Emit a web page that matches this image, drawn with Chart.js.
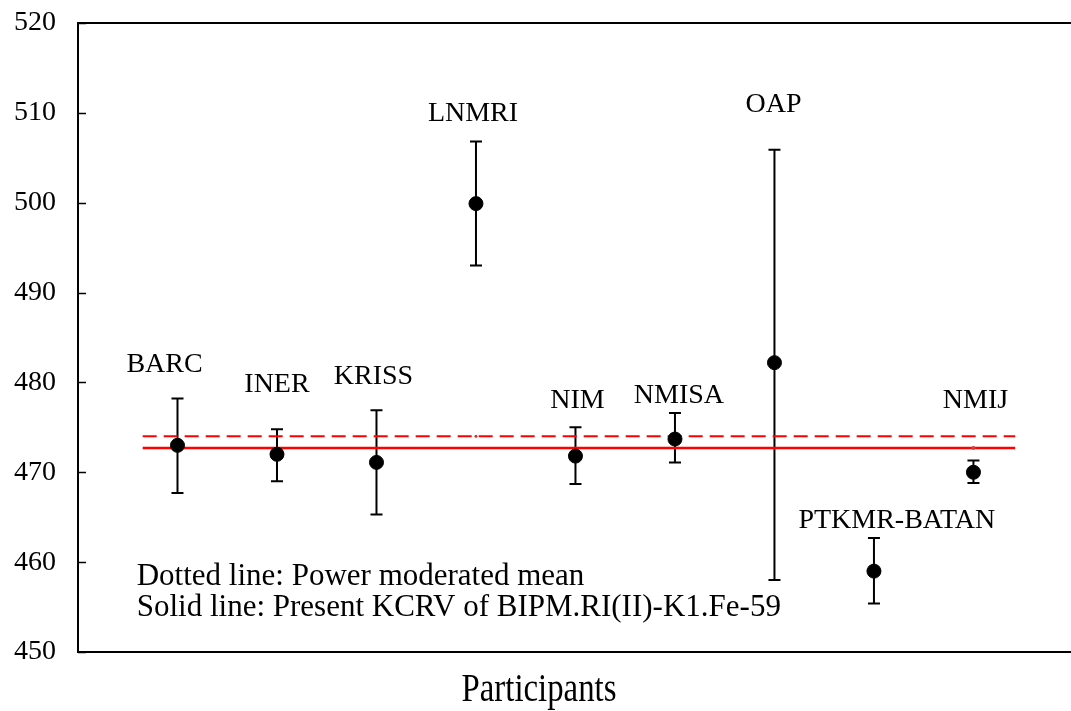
<!DOCTYPE html>
<html>
<head>
<meta charset="utf-8">
<script src="https://cdn.jsdelivr.net/npm/chart.js@4/dist/chart.umd.min.js"></script>
<style>
html,body{margin:0;padding:0;background:#fff;}
#wrap{width:1071px;height:711px;position:relative;}
</style>
</head>
<body>
<div id="wrap"><canvas id="c"></canvas></div>
<script>
// ---- data ----
const participants = ['BARC','INER','KRISS','LNMRI','NIM','NMISA','OAP','PTKMR-BATAN','NMIJ'];
const positions    = [1, 2, 3, 4, 5, 6, 7, 8, 9];
const values       = [473.0, 472.0, 471.1, 499.9, 471.8, 473.7, 482.2, 459.0, 470.0];
const lowerBounds  = [467.7, 469.0, 465.3, 493.0, 468.7, 471.1, 458.0, 455.4, 468.8];
const upperBounds  = [478.2, 474.8, 476.9, 506.8, 475.0, 476.6, 505.9, 462.7, 471.3];
const powerModeratedMean = 474.0;
const presentKCRV = 472.7;
const referenceLineSpan = [0.65, 9.42];
const yTickValues = [450, 460, 470, 480, 490, 500, 510, 520];
const notes = ['Dotted line: Power moderated mean', 'Solid line: Present KCRV of BIPM.RI(II)-K1.Fe-59'];
const xTitle = 'Participants';

// label anchors (data units)
const labelX = [0.87, 2.0, 2.97, 3.97, 5.02, 6.04, 6.99, 8.23, 9.02];
const labelY = [481.2, 478.9, 479.8, 509.1, 477.1, 477.7, 510.1, 463.8, 477.1];
const noteX = 0.59;
const noteY = [457.5, 454.0];

const FONT = '"Liberation Serif", "Times New Roman", serif';

const errorBarPlugin = {
  id: 'errorBars',
  beforeDatasetsDraw(chart) {
    const {ctx, scales: {x, y}} = chart;
    ctx.save();
    ctx.strokeStyle = '#000';
    ctx.lineWidth = 2;
    for (let i = 0; i < positions.length; i++) {
      const px = x.getPixelForValue(positions[i]);
      const lo = y.getPixelForValue(lowerBounds[i]);
      const hi = y.getPixelForValue(upperBounds[i]);
      ctx.beginPath();
      ctx.moveTo(px, lo); ctx.lineTo(px, hi);
      ctx.moveTo(px - 6, lo); ctx.lineTo(px + 6, lo);
      ctx.moveTo(px - 6, hi); ctx.lineTo(px + 6, hi);
      ctx.stroke();
    }
    ctx.restore();
  }
};

const framePlugin = {
  id: 'frame',
  afterDraw(chart) {
    const {ctx, chartArea: a, scales: {x, y}} = chart;
    ctx.save();
    ctx.strokeStyle = '#000';
    ctx.lineWidth = 2;
    ctx.beginPath();
    ctx.moveTo(a.left, a.top);
    ctx.lineTo(chart.width, a.top);
    ctx.moveTo(a.left, a.bottom);
    ctx.lineTo(chart.width, a.bottom);
    ctx.stroke();
    // inward y ticks
    ctx.lineWidth = 1.5;
    ctx.beginPath();
    yTickValues.forEach(v => {
      const py = Math.round(y.getPixelForValue(v)) + 0.5;
      ctx.moveTo(a.left, py); ctx.lineTo(a.left + 8, py);
    });
    ctx.stroke();
    // participant labels
    ctx.fillStyle = '#000';
    ctx.font = '28px ' + FONT;
    ctx.textAlign = 'center';
    ctx.textBaseline = 'alphabetic';
    participants.forEach((p, i) => {
      ctx.fillText(p, x.getPixelForValue(labelX[i]), y.getPixelForValue(labelY[i]));
    });
    // notes
    ctx.font = '31px ' + FONT;
    ctx.textAlign = 'left';
    notes.forEach((t, i) => {
      ctx.fillText(t, x.getPixelForValue(noteX), y.getPixelForValue(noteY[i]));
    });
    // x title
    ctx.font = '40px ' + FONT;
    ctx.textAlign = 'center';
    ctx.textBaseline = 'alphabetic';
    ctx.translate(539, 701);
    ctx.scale(0.82, 1);
    ctx.fillText(xTitle, 0, 0);
    ctx.restore();
  }
};

function zeroPad(s) {
  s.paddingTop = 0; s.paddingBottom = 0; s.paddingLeft = 0; s.paddingRight = 0;
}

new Chart(document.getElementById('c'), {
  type: 'scatter',
  data: {
    datasets: [
      {
        label: 'Participants',
        data: positions.map((p, i) => ({x: p, y: values[i]})),
        backgroundColor: '#000',
        borderColor: '#000',
        pointRadius: 7,
        pointHoverRadius: 7,
        order: 0
      },
      {
        type: 'line',
        label: 'Power moderated mean',
        data: [referenceLineSpan[0], positions[3], referenceLineSpan[1]].map(v => ({x: v, y: powerModeratedMean})),
        borderColor: '#ff0000',
        backgroundColor: '#c0392b',
        borderWidth: 2,
        borderDash: [14, 7],
        pointRadius: [0, 1.5, 0],
        pointBorderWidth: 0,
        fill: false,
        order: 1
      },
      {
        type: 'line',
        label: 'Present KCRV',
        data: [referenceLineSpan[0], positions[8], referenceLineSpan[1]].map(v => ({x: v, y: presentKCRV})),
        borderColor: '#ff0000',
        backgroundColor: '#d04040',
        borderWidth: 2.5,
        pointRadius: [0, 2, 0],
        pointBorderWidth: 0,
        fill: false,
        order: 1
      }
    ]
  },
  options: {
    responsive: true,
    maintainAspectRatio: false,
    animation: false,
    events: [],
    layout: {padding: {top: 23, right: 0, bottom: 0, left: 0}},
    plugins: {legend: {display: false}, tooltip: {enabled: false}, title: {display: false}},
    scales: {
      x: {
        type: 'linear',
        min: 0,
        max: 9.9,
        grid: {display: false, drawTicks: false},
        border: {display: true, color: '#000', width: 2},
        ticks: {display: false},
        afterFit: s => { s.height = 59; zeroPad(s); }
      },
      y: {
        min: 450,
        max: 520,
        grid: {display: false, drawTicks: false},
        border: {display: true, color: '#000', width: 2},
        ticks: {
          stepSize: 10,
          color: '#000',
          padding: 22,
          font: {family: FONT, size: 28}
        },
        afterFit: s => { s.width = 78; zeroPad(s); }
      }
    }
  },
  plugins: [errorBarPlugin, framePlugin]
});
</script>
</body>
</html>
